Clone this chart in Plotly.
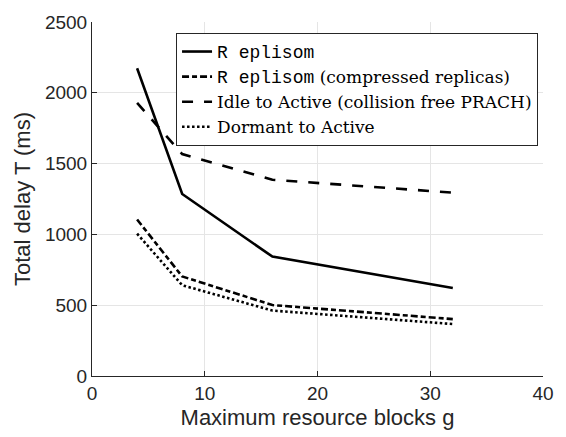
import plotly.graph_objects as go

x_vals = [4, 8, 16, 32]
replisom = [2173, 1285, 843, 622]
replisom_compressed = [1105, 703, 501, 402]
idle_to_active = [1929, 1567, 1386, 1295]
dormant_to_active = [1005, 641, 462, 367]

mono = '<span style="font-family:Liberation Mono;font-size:18px">R eplisom</span>'
names = [
    mono,
    mono + ' (compressed replicas)',
    'Idle to Active (collision free PRACH)',
    'Dormant to Active',
]
series = [replisom, replisom_compressed, idle_to_active, dormant_to_active]
dashes = ["solid", "7px,3px,5px,3px", "11px,11px", "2.5px,2.5px"]

fig = go.Figure()
for n, s, d in zip(names, series, dashes):
    fig.add_trace(go.Scatter(x=x_vals, y=s, mode="lines", name=n,
                             line=dict(color="black", width=2.6, dash=d)))

fig.update_layout(
    width=566, height=437,
    margin=dict(l=92, r=13, t=18, b=60),
    plot_bgcolor="white", paper_bgcolor="white",
    font=dict(family="Liberation Sans, Arial", color="#262626"),
    showlegend=True,
    legend=dict(x=0.989, y=0.969, xanchor="right", yanchor="top",
                bgcolor="white", bordercolor="#262626", borderwidth=1,
                font=dict(family="DejaVu Serif", size=17, color="black"),
                tracegroupgap=0, itemwidth=30),
)
fig.update_xaxes(range=[0, 40], tickvals=[0, 10, 20, 30, 40],
                 showgrid=True, gridcolor="#e5e5e5", gridwidth=1,
                 showline=True, linecolor="#262626", linewidth=1,
                 ticks="inside", ticklen=5, tickcolor="#262626",
                 tickfont=dict(size=19), zeroline=False,
                 title=dict(text="Maximum resource blocks g", font=dict(size=22), standoff=6))
fig.update_yaxes(range=[0, 2500], tickvals=[0, 500, 1000, 1500, 2000, 2500],
                 showgrid=True, gridcolor="#e5e5e5", gridwidth=1,
                 showline=True, linecolor="#262626", linewidth=1,
                 ticks="inside", ticklen=5, tickcolor="#262626",
                 tickfont=dict(size=19), zeroline=False,
                 title=dict(text="Total delay T (ms)", font=dict(size=22), standoff=8))

fig.write_html("out.html")
